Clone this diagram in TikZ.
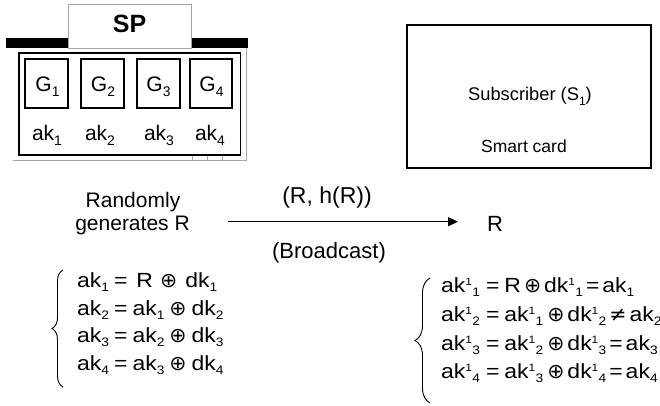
\documentclass[tikz,border=0pt]{standalone}
\usepackage{fontspec}
\usepackage{graphicx}
\setmainfont{Liberation Sans}
\newfontfamily\eqfont[FakeStretch=1.12]{Liberation Sans}
\newfontfamily\symfont{DejaVu Sans}
\usetikzlibrary{decorations.pathreplacing,arrows.meta}
% subscript, superscript and operator helpers
\newcommand\sbx[1]{\raisebox{-0.22em}{\scalebox{0.66}{#1}}}
\newcommand\lo[1]{\raisebox{-0.2em}{\scalebox{0.6}{#1}}}
\newcommand\hilo[2]{\raisebox{0.34em}{\scalebox{0.52}{#1}}\kern0.3pt\lo{#2}}
\newcommand\xo{{\symfont ⊕}}
\newcommand\nq{{\symfont ≠}}
\newcommand\gap[1]{\hspace{#1pt}}
\begin{document}
\begin{tikzpicture}[x=1pt,y=-1pt,
  frame/.style={draw=black,line width=1.3pt},
  gbox/.style={draw=black,line width=1.1pt},
  faint/.style={draw=black!35,line width=0.7pt},
  lbl/.style={inner sep=0pt,anchor=base,font=\fontsize{21}{22}\selectfont},
  big/.style={inner sep=0pt,anchor=base,font=\fontsize{22}{24}\selectfont},
  small/.style={inner sep=0pt,anchor=base,font=\fontsize{18.3}{20}\selectfont},
  eq/.style={inner sep=0pt,anchor=base west,font=\eqfont\fontsize{20.5}{24}\selectfont},
  curly/.style={decorate,line width=0.9pt}]
\useasboundingbox (0,0) rectangle (660,406);
\clip (0,0) rectangle (660,406);
\fill[white] (0,0) rectangle (660,406);

% service provider header
\fill[black] (6,37.7) rectangle (68,48);
\fill[black] (191.5,37.7) rectangle (248,48);
\draw[faint,fill=white] (68,4) rectangle (191.5,48);
\node[inner sep=0pt,anchor=base,font=\bfseries\fontsize{25}{25}\selectfont] (sp) at (129.5,33) {SP};

% table outline left from the layout
\draw[faint] (246,48) -- (246,160) -- (13,160);
\foreach \t in {192,207,222} \draw[faint] (\t,155) -- (\t,160);

% group keys
\draw[frame] (19,53) rectangle (240.5,155);
\node[gbox,minimum width=43pt,minimum height=49pt,inner sep=0pt] (g1) at (46.5,83.5) {};
\node[gbox,minimum width=43pt,minimum height=49pt,inner sep=0pt] (g2) at (102.5,83.5) {};
\node[gbox,minimum width=43pt,minimum height=49pt,inner sep=0pt] (g3) at (158.5,83.5) {};
\node[gbox,minimum width=42pt,minimum height=49pt,inner sep=0pt] (g4) at (211,83.5) {};
\node[lbl] (gl1) at (47.5,91.5) {G\sbx{1}};
\node[lbl] (gl2) at (103,91.5) {G\sbx{2}};
\node[lbl] (gl3) at (158.5,91.5) {G\sbx{3}};
\node[lbl] (gl4) at (211.5,91.5) {G\sbx{4}};
\node[lbl] (ak1) at (47,141) {ak\sbx{1}};
\node[lbl] (ak2) at (100,141) {ak\sbx{2}};
\node[lbl] (ak3) at (159,141) {ak\sbx{3}};
\node[lbl] (ak4) at (210,141) {ak\sbx{4}};

% subscriber card
\draw[frame] (407,25) rectangle (651,168);
\node[small] (sub) at (530,101) {Subscriber (S\sbx{1})};
\node[small,font=\fontsize{17.5}{20}\selectfont] (card) at (524,153) {Smart card};

% broadcast of R
\node[big,font=\fontsize{21}{24}\selectfont] (rand) at (133,207.5) {Randomly};
\node[big,font=\fontsize{21}{24}\selectfont] (gen) at (132.5,230) {generates R};
\node[big] (rcv) at (495,231) {R};
\coordinate (a0) at (228,221.7);
\coordinate (a1) at (458,221.7);
\draw[line width=1.2pt,-{Triangle[length=10pt,width=9pt]}] (a0) -- (a1);
\node[big,font=\fontsize{23}{24}\selectfont] (msg) at (327,203) {(R, h(R))};
\node[big] (bc) at (329,258) {(Broadcast)};

% key chain at the provider
\draw[curly,decoration={brace,amplitude=11pt,aspect=0.5}] (63,387) -- (63,270);
\node[eq] (e1) at (77,287) {ak\lo{1}\gap{5}=\gap{9}R\gap{7}\xo\gap{8}dk\lo{1}};
\node[eq] (e2) at (77,315) {ak\lo{2}\gap{5}=\gap{5}ak\lo{1}\gap{5}\xo\gap{5}dk\lo{2}};
\node[eq] (e3) at (77,342) {ak\lo{3}\gap{5}=\gap{5}ak\lo{2}\gap{5}\xo\gap{5}dk\lo{3}};
\node[eq] (e4) at (77,370) {ak\lo{4}\gap{5}=\gap{5}ak\lo{3}\gap{5}\xo\gap{5}dk\lo{4}};

% key chain at the subscriber
\draw[curly,decoration={brace,amplitude=15pt,aspect=0.5}] (430,403) -- (430,278);
\node[eq] (f1) at (441,292) {ak\hilo{1}{1}\gap{6}=\gap{5}R\gap{3}\xo\gap{3}dk\hilo{1}{1}\gap{3}=\gap{3}ak\lo{1}};
\node[eq] (f2) at (441,321) {ak\hilo{1}{2}\gap{6}=\gap{5}ak\hilo{1}{1}\gap{4}\xo\gap{3}dk\hilo{1}{2}\gap{3}\nq\gap{3}ak\lo{2}};
\node[eq] (f3) at (441,350) {ak\hilo{1}{3}\gap{6}=\gap{5}ak\hilo{1}{2}\gap{4}\xo\gap{3}dk\hilo{1}{3}\gap{3}=\gap{3}ak\lo{3}};
\node[eq] (f4) at (441,378) {ak\hilo{1}{4}\gap{6}=\gap{5}ak\hilo{1}{3}\gap{4}\xo\gap{3}dk\hilo{1}{4}\gap{3}=\gap{3}ak\lo{4}};
\end{tikzpicture}
\end{document}
